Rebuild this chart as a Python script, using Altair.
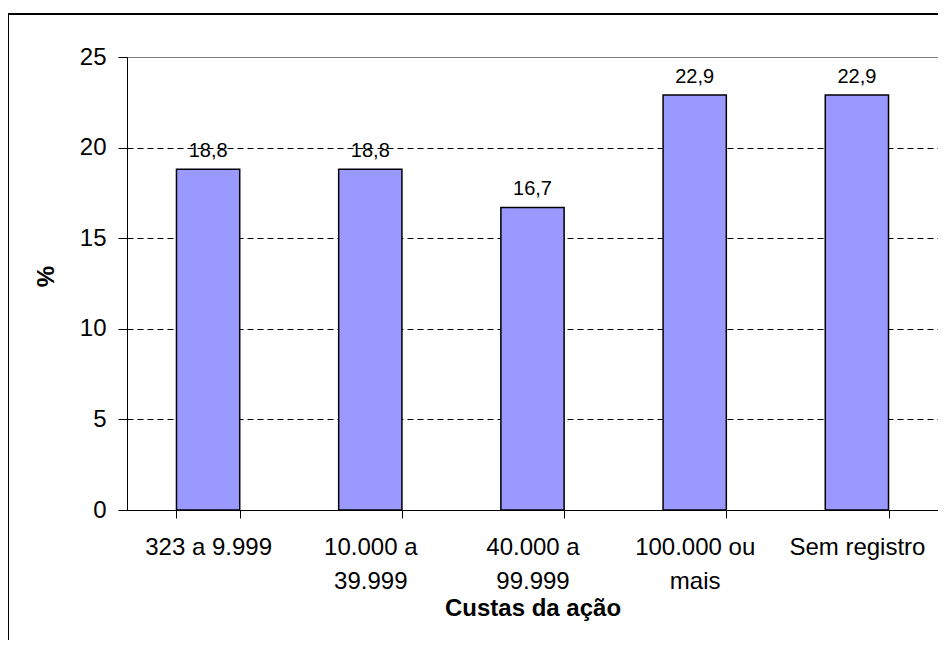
import altair as alt
import pandas as pd

categories = ["323 a 9.999", "10.000 a\n39.999", "40.000 a\n99.999", "100.000 ou\nmais", "Sem registro"]
values = [18.8, 18.8, 16.7, 22.9, 22.9]
labels = ["18,8", "18,8", "16,7", "22,9", "22,9"]
y_ticks = [0, 5, 10, 15, 20, 25]

df = pd.DataFrame({"cat": categories, "val": values, "label": labels})

FONT = "Liberation Sans"

x_scale = alt.Scale(paddingInner=0.61, paddingOuter=0.305)
y_scale = alt.Scale(domain=[0, 25], nice=False)

x = alt.X(
    "cat:N",
    sort=categories,
    scale=x_scale,
    axis=alt.Axis(
        title="Custas da ação",
        labelExpr="split(datum.label, '\\n')",
        labelAngle=0,
        tickBand="extent",
        tickSize=8,
        tickColor="black",
        domainColor="black",
        labelPadding=17,
        labelFontSize=24,
        labelFont=FONT,
        labelColor="black",
        labelLineHeight=34,
        labelBaseline="top",
        titleFont=FONT,
        titleFontSize=24,
        titleFontWeight="bold",
        titleColor="black",
        titleY=105,
        titleBaseline="alphabetic",
        grid=False,
    ),
)

y = alt.Y(
    "val:Q",
    scale=y_scale,
    axis=alt.Axis(
        title="%",
        values=y_ticks,
        tickSize=9,
        tickColor="black",
        domainColor="black",
        labelPadding=12,
        labelFontSize=24,
        labelFont=FONT,
        labelColor="black",
        titleFont=FONT,
        titleFontSize=24,
        titleFontWeight="bold",
        titleColor="black",
        titleAngle=270,
        titleX=-81,
        titleY=219,
        titleAlign="center",
        titleBaseline="middle",
        grid=True,
        gridColor={"condition": {"test": "datum.value >= 25", "value": "#808080"}, "value": "black"},
        gridDash={"condition": {"test": "datum.value >= 25", "value": []}, "value": [6, 4]},
        gridWidth=1,
    ),
)

bars = alt.Chart(df).mark_bar(color="#9999FF", stroke="black", strokeWidth=1.5).encode(x=x, y=y)

text = alt.Chart(df).mark_text(
    baseline="alphabetic", dy=-12, fontSize=20, font=FONT, color="black"
).encode(
    x=alt.X("cat:N", sort=categories, scale=x_scale),
    y=alt.Y("val:Q", scale=y_scale),
    text="label:N",
)

frame_data = alt.Data(values=[{"k": 1}])
top_border = alt.Chart(frame_data).mark_rule(color="black", strokeWidth=2).encode(
    x=alt.value(-121), x2=alt.value(830), y=alt.value(-43)
)
left_border = alt.Chart(frame_data).mark_rule(color="black", strokeWidth=2).encode(
    x=alt.value(-119), y=alt.value(-43), y2=alt.value(600)
)

chart = (
    alt.layer(bars, text, top_border, left_border)
    .properties(
        width=811,
        height=453,
        padding={"left": 119, "top": 49, "right": 0, "bottom": 130},
        autosize="none",
        background="white",
    )
    .configure_view(stroke="#808080", strokeWidth=1)
)

chart.save("out.html", embed_options={"renderer": "svg", "actions": False})
